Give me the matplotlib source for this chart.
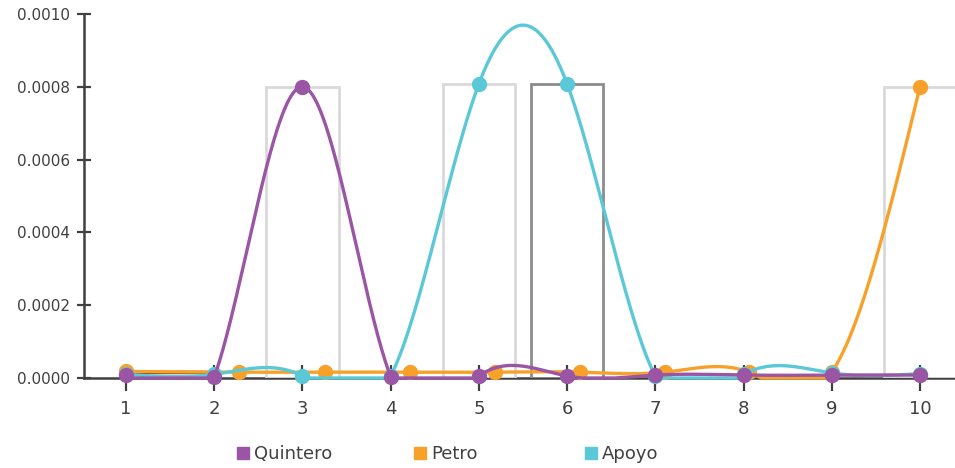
import numpy as np
import matplotlib
matplotlib.use("Agg")
import matplotlib.pyplot as plt
from matplotlib.lines import Line2D

plt.rcParams['font.family'] = ['DejaVu Sans']

# ---- data ----
x_cat = [1, 2, 3, 4, 5, 6, 7, 8, 9, 10]
quintero = [0.000008, 0.000002, 0.0008, 0.0000035, 0.0000055, 0.0000055,
            0.000008, 0.000008, 0.000008, 0.000008]
apoyo = [0.00001, 0.00001, 0.000005, 0.000005, 0.000808, 0.000808,
         0.000005, 0.00001, 0.000014, 0.000012]
petro_x = [1, 2.28, 3.26, 4.22, 5.18, 6.15, 7.11, 8.06, 9.0, 10.0]
petro = [0.000018, 0.000016, 0.000016, 0.000016, 0.000016, 0.000016,
         0.000016, 0.000016, 0.000016, 0.0008]
bar_x = [3, 5, 6, 10]
bar_h = [0.0008, 0.000808, 0.000808, 0.0008]
bar_edge = ['#d9d9d9', '#d9d9d9', '#8c8c8c', '#d9d9d9']
extra_x = [1, 2]
extra_y = [0.000016, 0.000016]
y_ticks = [0.0, 0.0002, 0.0004, 0.0006, 0.0008, 0.0010]
y_ticklabels = ['0.0000', '0.0002', '0.0004', '0.0006', '0.0008', '0.0010']

C_Q = '#9b55a5'
C_P = '#f7a12b'
C_A = '#5bc8d7'
AX_C = '#404040'


def smooth_curve(xs, ys, per_seg=80):
    """Natural cubic spline through the points, drawn with values kept >= 0."""
    xs = np.asarray(xs, float)
    ys = np.asarray(ys, float)
    n = len(xs)
    h = np.diff(xs)
    A = np.zeros((n, n))
    b = np.zeros(n)
    A[0, 0] = 1
    A[-1, -1] = 1
    for i in range(1, n - 1):
        A[i, i - 1] = h[i - 1]
        A[i, i] = 2 * (h[i - 1] + h[i])
        A[i, i + 1] = h[i]
        b[i] = 6 * ((ys[i + 1] - ys[i]) / h[i] - (ys[i] - ys[i - 1]) / h[i - 1])
    M = np.linalg.solve(A, b)
    px, py = [], []
    for i in range(n - 1):
        t = np.linspace(xs[i], xs[i + 1], per_seg)
        hi = h[i]
        s = (M[i] * (xs[i + 1] - t) ** 3 / (6 * hi) + M[i + 1] * (t - xs[i]) ** 3 / (6 * hi)
             + (ys[i] / hi - M[i] * hi / 6) * (xs[i + 1] - t)
             + (ys[i + 1] / hi - M[i + 1] * hi / 6) * (t - xs[i]))
        px.append(t)
        py.append(s)
    return np.concatenate(px), np.maximum(np.concatenate(py), 0)


fig = plt.figure(figsize=(9.55, 4.68), dpi=100)
ax = fig.add_axes([84 / 955, 1 - 378 / 468, 1 - 84 / 955, (378 - 14) / 468])

ax.bar(bar_x, bar_h, width=0.82, fill=False, edgecolor=bar_edge, linewidth=2, zorder=1)
ax.plot(extra_x, extra_y, color='#8b3a22', lw=2.5, zorder=2, solid_capstyle='butt')

for xs, ys, c, z in [(petro_x, petro, C_P, 3), (x_cat, apoyo, C_A, 4), (x_cat, quintero, C_Q, 5)]:
    cx, cy = smooth_curve(xs, ys)
    ax.plot(cx, cy, color=c, lw=2.4, zorder=z, clip_on=False)
    ax.plot(xs, ys, linestyle='none', marker='o', markersize=10, color=c, zorder=z + 0.5, clip_on=False)

ax.set_xlim(0.524, 10.397)
ax.set_ylim(0, 0.001)
ax.set_xticks(x_cat)
ax.set_xticklabels([str(v) for v in x_cat])
ax.set_yticks(y_ticks)
ax.set_yticklabels(y_ticklabels)

for side in ['top', 'right']:
    ax.spines[side].set_visible(False)
for side in ['left', 'bottom']:
    ax.spines[side].set_color(AX_C)
    ax.spines[side].set_linewidth(1.8)
    ax.spines[side].set_zorder(0.5)

ax.tick_params(axis='x', direction='inout', length=19, width=1.6, color=AX_C,
               labelsize=13, labelcolor=AX_C, pad=6)
ax.tick_params(axis='y', direction='inout', length=9.5, width=1.6, color=AX_C,
               labelsize=11, labelcolor=AX_C, pad=5)

names = ['Quintero', 'Petro', 'Apoyo']
cols = [C_Q, C_P, C_A]
lefts = [236, 413, 584]
for nm, c, lx in zip(names, cols, lefts):
    h = Line2D([], [], linestyle='none', marker='s', markersize=9, color=c)
    fig.legend([h], [nm], loc='center left', bbox_to_anchor=(lx / 955, 1 - 454 / 468),
               frameon=False, fontsize=13, handlelength=0.8, handletextpad=0.2,
               borderpad=0, borderaxespad=0, labelcolor=AX_C)

fig.savefig('out.png', dpi=100)
